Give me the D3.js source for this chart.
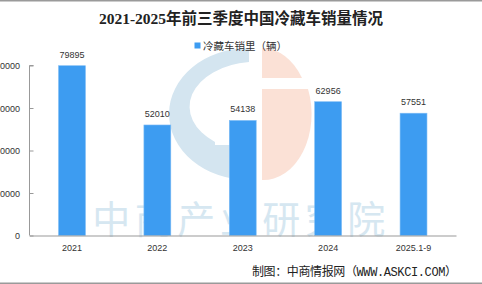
<!DOCTYPE html>
<html><head><meta charset="utf-8">
<script src="https://cdn.jsdelivr.net/npm/d3@7"></script>
<style>html,body{margin:0;padding:0;background:#fff;overflow:hidden}svg{display:block}</style>
</head><body>
<script>
const categories = ["2021", "2022", "2023", "2024", "2025.1-9"];
const values = [79895, 52010, 54138, 62956, 57551];
const yTicks = [0, 20000, 40000, 60000, 80000];
const titleText = "2021-2025年前三季度中国冷藏车销量情况";
const legendText = "冷藏车销里（辆）";
const sourceText = "制图：中商情报网（WWW.ASKCI.COM）";
const watermarkText = "中商产业研究院";

const W = 482, H = 284;
const svg = d3.select("body").append("svg").attr("width", W).attr("height", H);
const sans = "Arial, 'Liberation Sans', 'Noto Sans CJK SC', sans-serif";

// frame lines
svg.append("rect").attr("x", 0).attr("y", 0).attr("width", W).attr("height", 1.5).attr("fill", "#9a9a9a");
svg.append("rect").attr("x", 0).attr("y", 282.5).attr("width", W).attr("height", 1.5).attr("fill", "#9a9a9a");

// watermark logo
const wm = svg.append("g");
const cx = 249, cy = 114, rx = 80, ry = 66;
// blue G-like left half
wm.append("path")
  .attr("d", `M${cx},${cy - ry} A${rx},${ry} 0 0 0 ${cx},${cy + ry} L${cx},${cy + 31} L${cx - 34},${cy + 31} L${cx - 34},${cy + 31}
     A${cx - 182 + 0},${0} 0 0 1 ${cx - 34},${cy + 31}
     L${cx},${cy + 31} Z`)
  .attr("fill", "none");
wm.append("path")
  .attr("d", `M${cx},${cy - ry} A${rx},${ry} 0 0 0 ${cx},${cy + ry} L${cx},${cy + 31} L${cx - 34},${cy + 31} L${cx - 34},${cy + 28}
     A67,45 0 0 1 ${cx},${cy - 52} Z`)
  .attr("fill", "#d4e5f0");
// orange right half with a gap
const ox = 262;
wm.append("path")
  .attr("d", `M${ox},${cy - ry} A48,${ry} 0 0 1 ${ox + 40},${cy - 36} L${ox},${cy - 36} Z`)
  .attr("fill", "#fbe1d6");
wm.append("path")
  .attr("d", `M${ox},${cy - 25} L${ox + 46},${cy - 25} A48,${ry} 0 0 1 ${ox},${cy + ry} Z`)
  .attr("fill", "#fbe1d6");
wm.append("text").attr("x", 241).attr("y", 233).attr("text-anchor", "middle")
  .attr("font-family", "'Noto Sans CJK SC', sans-serif").attr("font-size", 38)
  .attr("letter-spacing", 4.5).attr("fill", "#d6e7f1").text(watermarkText);

// scales
const x = d3.scaleBand().domain(categories).range([29.5, 456]).paddingInner(0.685).paddingOuter(0.34);
const y = d3.scaleLinear().domain([0, 80000]).range([235.5, 65.5]);

// bars
svg.append("g").selectAll("rect").data(values).join("rect")
  .attr("x", (d, i) => x(categories[i]))
  .attr("y", d => y(d))
  .attr("width", x.bandwidth())
  .attr("height", d => y(0) - y(d))
  .attr("fill", "#3d9cf1")
  .attr("stroke", "#7dbcf5").attr("stroke-width", 0.6);

// value labels
svg.append("g").selectAll("text").data(values).join("text")
  .attr("x", (d, i) => x(categories[i]) + x.bandwidth() / 2)
  .attr("y", d => y(d) - 8)
  .attr("text-anchor", "middle").attr("font-family", sans).attr("font-size", 9).attr("fill", "#333")
  .text(d => d);

// y axis
const yAxis = svg.append("g").attr("transform", "translate(29.5,0)")
  .call(d3.axisRight(y).tickValues(yTicks).tickSize(4).tickFormat(""));
yAxis.select(".domain").attr("stroke", "#999").attr("d", `M4,${y(80000)}H0V${y(0)}`);
yAxis.selectAll(".tick line").attr("stroke", "#999");
svg.append("g").selectAll("text").data(yTicks).join("text")
  .attr("x", 20).attr("y", d => y(d) + 3.5).attr("text-anchor", "end")
  .attr("font-family", sans).attr("font-size", 9).attr("fill", "#333").text(d => d);

// x axis
const xAxis = svg.append("g").attr("transform", `translate(0,${y(0)})`)
  .call(d3.axisBottom(x).tickSize(0).tickPadding(9));
xAxis.select(".domain").attr("stroke", "#999");
xAxis.selectAll("text").attr("font-family", sans).attr("font-size", 9).attr("fill", "#333");

// title
svg.append("text").attr("x", 241).attr("y", 24).attr("text-anchor", "middle")
  .attr("font-family", "'Liberation Serif', 'Noto Sans CJK SC', serif").attr("font-weight", "bold")
  .attr("font-size", 15.5).attr("fill", "#222").text(titleText);

// legend
svg.append("rect").attr("x", 194.5).attr("y", 42.5).attr("width", 6).attr("height", 6).attr("fill", "#3d9cf1");
svg.append("text").attr("x", 203).attr("y", 50).attr("font-family", "'Noto Sans CJK SC', sans-serif")
  .attr("font-size", 10.5).attr("fill", "#333").text(legendText);

// source
svg.append("text").attr("x", 457).attr("y", 276).attr("text-anchor", "end")
  .attr("font-family", "'Liberation Mono', 'Noto Sans CJK SC', monospace")
  .attr("font-size", 12).attr("fill", "#222").attr("textLength", 205).text(sourceText);
</script>
</body></html>
